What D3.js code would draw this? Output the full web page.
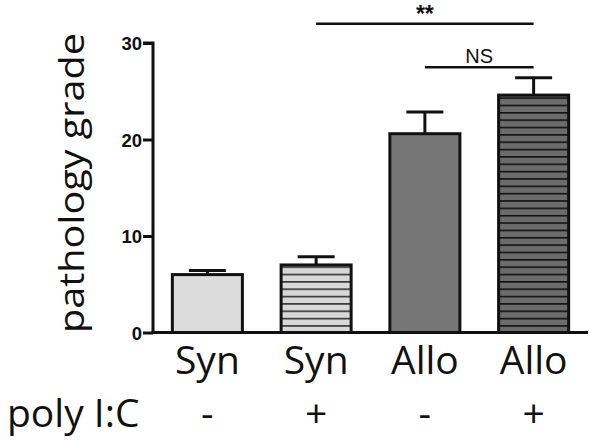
<!DOCTYPE html>
<html><head><meta charset="utf-8">
<script src="https://cdn.jsdelivr.net/npm/d3@7"></script>
<style>body{margin:0;background:#fff}</style>
</head><body>
<svg id="c" width="600" height="444"></svg>
<script>
const categories = ["Syn", "Syn", "Allo", "Allo"];
const polyIC = ["-", "+", "-", "+"];
const means = [6.0, 7.0, 20.6, 24.6];
const errors = [0.42, 0.85, 2.25, 1.8];
const yTicks = [0, 10, 20, 30];
const comparisons = [
  {from: 1, to: 3, label: "**", level: 32.0},
  {from: 2, to: 3, label: "NS", level: 27.5}
];
const fills = ["#dcdcdc", "#d8d8d8", "#767676", "#6c6c6c"];
const striped = [false, true, false, true];
const stripeColors = [null, "#333", null, "#111"];

const svg = d3.select("#c");
const x0 = 153, x1 = 588, yBase = 332.5, yTop = 43;
const x = d3.scaleBand().domain(d3.range(categories.length)).range([x0, x1]).paddingInner(0.356).paddingOuter(0.178);
const y = d3.scaleLinear().domain([0, 30]).range([yBase, yTop]);

const defs = svg.append("defs");
[1, 3].forEach(i => {
  const p = defs.append("pattern").attr("id", "stripe" + i).attr("patternUnits", "userSpaceOnUse")
    .attr("x", 0).attr("y", yBase).attr("width", 10).attr("height", 7.35);
  p.append("rect").attr("width", 10).attr("height", 7.35).attr("fill", fills[i]);
  p.append("rect").attr("x", 0).attr("y", 0).attr("width", 10).attr("height", 1.6).attr("fill", stripeColors[i]);
});

// error bars
const cap = 37;
const eg = svg.append("g").attr("stroke", "#111").attr("stroke-width", 3);
means.forEach((m, i) => {
  const cx = x(i) + x.bandwidth() / 2;
  eg.append("line").attr("x1", cx).attr("x2", cx).attr("y1", y(m)).attr("y2", y(m + errors[i]));
  eg.append("line").attr("x1", cx - cap / 2).attr("x2", cx + cap / 2).attr("y1", y(m + errors[i])).attr("y2", y(m + errors[i]));
});

// bars
svg.append("g").selectAll("rect").data(means).join("rect")
  .attr("x", (d, i) => x(i)).attr("width", x.bandwidth())
  .attr("y", d => y(d)).attr("height", d => y(0) - y(d))
  .attr("fill", (d, i) => striped[i] ? `url(#stripe${i})` : fills[i])
  .attr("stroke", "#111").attr("stroke-width", 3);

// y axis
const yAxis = svg.append("g").attr("transform", `translate(${x0},0)`)
  .call(d3.axisLeft(y).tickValues(yTicks).tickSize(10).tickPadding(1));
yAxis.select(".domain").attr("stroke", "#111").attr("stroke-width", 3).attr("d", `M-10,${y(30)}H0V${yBase}`);
yAxis.selectAll(".tick line").attr("stroke", "#111").attr("stroke-width", 3);
yAxis.selectAll(".tick text").attr("font-family", "'Liberation Sans', Arial, sans-serif")
  .attr("font-weight", "bold").attr("font-size", 18.5).attr("fill", "#111").attr("dy", "0.36em");

// x axis line
svg.append("line").attr("x1", x0 - 1.5).attr("x2", x1).attr("y1", yBase).attr("y2", yBase)
  .attr("stroke", "#111").attr("stroke-width", 3);

// y title
svg.append("text").attr("transform", `translate(84,${(33 + 333) / 2}) rotate(-90)`)
  .attr("text-anchor", "middle").attr("font-family", "'Open Sans', sans-serif").attr("font-size", 35)
  .attr("textLength", 300).attr("lengthAdjust", "spacingAndGlyphs").attr("fill", "#111")
  .text("pathology grade");

// category labels
const lblFont = "'Open Sans', sans-serif";
svg.append("g").selectAll("text").data(categories).join("text")
  .attr("x", (d, i) => x(i) + x.bandwidth() / 2).attr("y", 374)
  .attr("text-anchor", "middle").attr("font-family", lblFont).attr("font-size", 39).attr("fill", "#111")
  .text(d => d);
svg.append("text").attr("x", 7).attr("y", 427).attr("font-family", lblFont).attr("font-size", 39).attr("fill", "#111")
  .text("poly I:C");
svg.append("g").selectAll("text").data(polyIC).join("text")
  .attr("x", (d, i) => x(i) + x.bandwidth() / 2).attr("y", 427)
  .attr("text-anchor", "middle").attr("font-family", lblFont).attr("font-size", 39).attr("fill", "#111")
  .text(d => d);

// significance
comparisons.forEach(c => {
  const xa = x(c.from) + x.bandwidth() / 2, xb = x(c.to) + x.bandwidth() / 2;
  svg.append("line").attr("x1", xa).attr("x2", xb).attr("y1", y(c.level)).attr("y2", y(c.level))
    .attr("stroke", "#111").attr("stroke-width", 2.5);
  svg.append("text").attr("x", (xa + xb) / 2).attr("y", y(c.level) - (c.label === "**" ? 2 : 4)).attr("text-anchor", "middle")
    .attr("font-family", "'Liberation Sans', Arial, sans-serif").attr("font-size", c.label === "**" ? 23 : 20)
    .attr("font-weight", c.label === "**" ? "bold" : "normal").attr("fill", "#111")
    .text(c.label);
});
</script>
</body></html>
